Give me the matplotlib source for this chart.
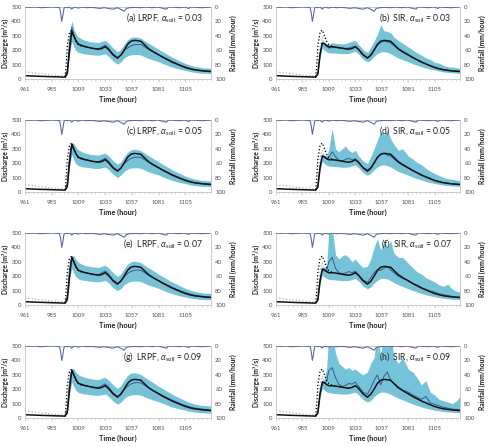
import matplotlib
matplotlib.use('Agg')
import matplotlib.pyplot as plt
from matplotlib.ticker import MultipleLocator

plt.rcParams['font.family'] = ['Lato', 'DejaVu Sans']
plt.rcParams['mathtext.fontset'] = 'custom'
plt.rcParams['mathtext.rm'] = 'Lato'
plt.rcParams['mathtext.it'] = 'Lato:italic'
plt.rcParams['mathtext.bf'] = 'Lato:bold'

# ---------------- data ----------------
time_pre = [961, 973, 985]
time_b = [997, 999, 1001, 1003, 1005, 1007, 1009, 1012, 1015, 1018, 1021, 1024, 1027, 1030,
          1033, 1036, 1040, 1044, 1047, 1050, 1053, 1056, 1059, 1062, 1065, 1068, 1072, 1076,
          1081, 1085, 1089, 1093, 1097, 1101, 1105, 1109, 1113, 1117, 1121, 1125, 1128]
time_all = time_pre + time_b

# thick black line (LRPF panels / SIR panels)
est_lrpf = [23, 19, 16, 13, 40, 200, 330, 295, 262, 240, 232, 225, 220, 214, 210, 207, 212, 225,
            205, 168, 145, 165, 200, 240, 262, 268, 266, 262, 240, 210, 190, 168, 150, 134, 118,
            105, 92, 80, 71, 64, 60, 56, 54, 52]
est_sir = [23, 19, 16, 13, 35, 170, 250, 245, 232, 224, 224, 222, 218, 214, 210, 207, 212, 225,
           205, 168, 145, 165, 200, 240, 262, 268, 266, 262, 240, 210, 190, 168, 150, 134, 118,
           105, 92, 80, 71, 64, 60, 56, 54, 52]
open_loop = [50, 38, 28, 20, 60, 240, 290, 230, 200, 188, 185, 188, 192, 195, 195, 197, 205, 212,
             192, 158, 136, 148, 175, 195, 205, 208, 205, 198, 185, 168, 155, 140, 127, 115, 104,
             94, 84, 75, 67, 61, 57, 54, 52, 50]
obs_time = [997, 998, 999, 1001, 1003, 1005, 1007, 1009, 1012]
obs_pts = [15, 100, 230, 325, 340, 300, 262, 238, 228]

rain_t = [961, 965, 970, 975, 980, 985, 990, 992, 993, 994, 995, 996, 997, 999, 1001, 1003,
          1005, 1009, 1012, 1016, 1020, 1024, 1028, 1032, 1036, 1040, 1044, 1048, 1050, 1052,
          1055, 1060, 1065, 1070, 1075, 1080, 1088, 1090, 1096, 1100, 1104, 1108, 1110, 1115,
          1120, 1128]
rain_v = [0, 0.5, 0, 1, 0.5, 0, 0.5, 1, 8, 20, 12, 2, 0, 1, 0, 3, 0, 1.5, 0, 1, 0.5, 1, 2, 1,
          2, 3, 1, 4, 6, 2, 1, 0.5, 1, 0, 1, 0, 3, 0, 0.5, 1, 0, 2, 0, 0.5, 1, 0]

# LRPF alpha = 0.03
a_up = [18, 90, 320, 405, 345, 310, 292, 278, 268, 262, 258, 255, 253, 262, 268, 250, 215, 190,
        205, 240, 272, 288, 292, 290, 283, 268, 248, 230, 205, 188, 170, 152, 137, 122, 108, 97,
        88, 82, 78, 76, 75]
a_lo = [10, 30, 180, 260, 225, 198, 185, 178, 174, 171, 168, 166, 165, 170, 175, 158, 125, 103,
        118, 145, 160, 168, 170, 170, 166, 156, 142, 132, 120, 106, 94, 83, 74, 66, 60, 52,
        46, 42, 40, 39, 38]
a_mn = [15, 60, 260, 360, 300, 265, 245, 232, 222, 218, 213, 212, 210, 222, 235, 215, 175, 150,
        165, 195, 215, 230, 238, 240, 240, 225, 205, 188, 168, 152, 137, 122, 108, 95, 84, 74,
        67, 62, 58, 55, 53]
# LRPF alpha = 0.05
c_up = [18, 85, 300, 345, 335, 308, 292, 280, 270, 264, 260, 258, 256, 265, 270, 252, 218, 193,
        210, 245, 276, 292, 296, 294, 287, 272, 252, 233, 208, 191, 173, 155, 140, 125, 111, 100,
        91, 84, 80, 78, 77]
c_lo = [10, 30, 178, 258, 222, 196, 183, 176, 172, 169, 166, 164, 163, 168, 173, 156, 123, 101,
        116, 142, 158, 166, 168, 168, 164, 154, 140, 130, 118, 104, 92, 81, 72, 64, 58, 50,
        45, 41, 39, 38, 37]
c_mn = [15, 60, 250, 335, 295, 262, 243, 230, 222, 218, 214, 212, 211, 222, 235, 214, 174, 150,
        165, 196, 217, 232, 240, 242, 240, 226, 206, 189, 169, 153, 138, 123, 109, 96, 85, 75,
        68, 63, 59, 56, 54]
# LRPF alpha = 0.07
e_up = [18, 85, 300, 345, 338, 312, 296, 284, 275, 270, 266, 263, 261, 270, 276, 258, 224, 198,
        216, 252, 283, 300, 304, 301, 294, 278, 258, 239, 214, 196, 178, 160, 145, 130, 116, 104,
        95, 88, 84, 82, 80]
e_lo = [10, 30, 175, 255, 220, 194, 181, 174, 170, 167, 164, 162, 161, 166, 171, 154, 121, 99,
        114, 140, 156, 164, 166, 166, 162, 152, 138, 128, 116, 102, 90, 79, 70, 62, 56, 49,
        44, 40, 38, 37, 36]
e_mn = [15, 60, 250, 335, 295, 262, 243, 231, 223, 219, 215, 213, 212, 223, 236, 215, 175, 151,
        166, 197, 218, 233, 241, 243, 241, 227, 207, 190, 170, 154, 139, 124, 110, 97, 86, 76,
        69, 64, 60, 57, 55]
# LRPF alpha = 0.09
g_up = [18, 85, 300, 345, 340, 316, 300, 290, 282, 277, 272, 268, 266, 276, 282, 264, 230, 205,
        225, 262, 295, 312, 314, 310, 302, 286, 265, 246, 220, 202, 184, 166, 150, 135, 120, 108,
        98, 91, 87, 85, 83]
g_lo = [10, 30, 172, 250, 216, 190, 177, 170, 166, 163, 160, 158, 157, 162, 167, 150, 118, 96,
        110, 136, 152, 160, 162, 162, 158, 148, 135, 125, 113, 100, 88, 77, 68, 60, 54, 47,
        42, 38, 36, 35, 34]
g_mn = [15, 60, 250, 335, 295, 263, 244, 232, 224, 220, 216, 214, 213, 224, 237, 216, 176, 152,
        167, 198, 220, 236, 244, 246, 243, 229, 209, 191, 171, 155, 140, 125, 111, 98, 87, 77,
        70, 65, 61, 58, 56]
# SIR alpha = 0.03
b_up = [16, 50, 200, 265, 255, 245, 242, 252, 248, 246, 244, 245, 255, 262, 268, 240, 205, 185,
        220, 262, 310, 375, 335, 330, 320, 292, 268, 248, 222, 202, 182, 166, 147, 136, 116, 110,
        95, 85, 82, 78, 75]
b_lo = [12, 35, 150, 215, 200, 188, 182, 180, 180, 178, 176, 176, 178, 186, 192, 172, 138, 118,
        132, 158, 176, 188, 190, 186, 176, 162, 146, 134, 120, 106, 96, 85, 76, 69, 62, 55,
        50, 46, 43, 41, 40]
b_mn = [15, 40, 180, 250, 240, 225, 215, 218, 218, 215, 213, 212, 215, 222, 228, 205, 170, 150,
        170, 205, 235, 255, 262, 258, 250, 232, 205, 185, 165, 148, 133, 118, 105, 93, 82, 73,
        66, 61, 57, 55, 53]
# SIR alpha = 0.05
d_up = [16, 50, 200, 268, 255, 250, 300, 440, 300, 280, 300, 320, 290, 275, 290, 250, 215, 200,
        245, 300, 360, 420, 400, 430, 370, 330, 290, 300, 250, 230, 205, 190, 165, 145, 128, 115,
        100, 92, 88, 82, 78]
d_lo = [12, 35, 150, 212, 198, 186, 180, 178, 176, 174, 172, 172, 174, 182, 188, 168, 135, 115,
        130, 155, 174, 186, 188, 184, 174, 160, 143, 131, 117, 104, 93, 83, 74, 66, 59, 53,
        48, 44, 42, 40, 39]
d_mn = [15, 40, 180, 250, 240, 228, 240, 280, 245, 220, 215, 225, 235, 222, 230, 205, 172, 152,
        170, 205, 240, 262, 270, 255, 250, 230, 205, 185, 165, 148, 133, 118, 105, 93, 82, 73,
        66, 61, 57, 55, 53]
# SIR alpha = 0.07
f_up = [16, 50, 205, 265, 260, 280, 520, 540, 350, 320, 340, 350, 330, 300, 320, 290, 260, 270,
        320, 400, 460, 380, 450, 400, 450, 360, 330, 330, 290, 260, 230, 215, 190, 175, 160, 140,
        130, 145, 110, 95, 90]
f_lo = [12, 35, 150, 208, 195, 184, 178, 176, 174, 171, 169, 169, 171, 178, 185, 165, 131, 112,
        126, 151, 170, 184, 185, 181, 170, 156, 140, 128, 113, 101, 90, 80, 71, 64, 57, 51,
        47, 43, 41, 39, 38]
f_mn = [15, 40, 175, 240, 235, 240, 300, 330, 255, 225, 215, 222, 232, 225, 235, 210, 175, 158,
        190, 225, 245, 240, 255, 265, 245, 225, 200, 185, 170, 150, 138, 122, 108, 98, 90, 78,
        72, 66, 60, 56, 54]
# SIR alpha = 0.09
h_up = [16, 50, 200, 260, 270, 350, 600, 600, 450, 380, 360, 340, 350, 330, 340, 320, 300, 320,
        380, 420, 600, 430, 600, 480, 600, 420, 380, 420, 340, 320, 280, 230, 260, 180, 160, 130,
        120, 110, 100, 120, 150]
h_lo = [12, 35, 145, 205, 192, 181, 175, 172, 170, 168, 166, 166, 168, 174, 180, 160, 128, 110,
        122, 148, 168, 180, 180, 175, 165, 152, 138, 126, 110, 98, 87, 77, 68, 61, 54, 49,
        45, 42, 40, 38, 37]
h_mn = [15, 40, 170, 235, 240, 260, 330, 350, 280, 235, 220, 225, 240, 235, 250, 220, 180, 165,
        210, 260, 300, 230, 290, 320, 260, 240, 215, 195, 180, 160, 145, 130, 150, 105, 95, 85,
        75, 68, 62, 58, 56]

panels = [
    ('(a) LRPF, ', '0.03', a_up, a_lo, a_mn, est_lrpf),
    ('(b)  SIR, ', '0.03', b_up, b_lo, b_mn, est_sir),
    ('(c) LRPF, ', '0.05', c_up, c_lo, c_mn, est_lrpf),
    ('(d)  SIR, ', '0.05', d_up, d_lo, d_mn, est_sir),
    ('(e)  LRPF, ', '0.07', e_up, e_lo, e_mn, est_lrpf),
    ('(f)  SIR, ', '0.07', f_up, f_lo, f_mn, est_sir),
    ('(g)  LRPF, ', '0.09', g_up, g_lo, g_mn, est_lrpf),
    ('(h)  SIR, ', '0.09', h_up, h_lo, h_mn, est_sir),
]
xticks = [961, 985, 1009, 1033, 1057, 1081, 1105]

# ---------------- figure ----------------
W, H = 490, 447
fig = plt.figure(figsize=(W / 100, H / 100), dpi=100)

col_x = [(25, 211), (276, 460)]
row_top = [7, 120, 233, 346]
ax_h = 72
band_col = '#74c3d9'
spine_col = '#c9c9c9'
tick_col = '#505050'

for i, (lab, aval, up, lo, mn, est) in enumerate(panels):
    r, c = divmod(i, 2)
    x0, x1 = col_x[c]
    top = row_top[r]
    ax = fig.add_axes([x0 / W, 1 - (top + ax_h) / H, (x1 - x0) / W, ax_h / H])
    ax.fill_between(time_b, lo, up, color=band_col, lw=0, zorder=1)
    ax.plot(time_all, open_loop, ls=':', color='#a9aeb3', lw=0.9, zorder=2)
    ax.plot(time_b, mn, color='#3b5b8e', lw=0.7, zorder=3)
    ax.plot(time_all, est, color='#111111', lw=1.1, zorder=4)
    ax.plot(obs_time, obs_pts, ls=':', color='#000000', lw=0.9, zorder=5)
    ax.set_xlim(961, 1128)
    ax.set_ylim(0, 500)
    ax.set_xticks(xticks)
    ax.xaxis.set_minor_locator(MultipleLocator(4))
    ax.set_yticks([0, 100, 200, 300, 400, 500])
    ax.tick_params(axis='x', which='major', labelsize=4.3, colors=spine_col, labelcolor=tick_col,
                   length=2, width=0.5, pad=3.5)
    ax.tick_params(axis='x', which='minor', colors=spine_col, length=1.5, width=0.4)
    ax.tick_params(axis='y', labelsize=4.3, labelcolor=tick_col, length=0, pad=2.5)
    for s in ax.spines.values():
        s.set_color(spine_col)
        s.set_linewidth(0.6)

    ax2 = ax.twinx()
    ax2.plot(rain_t, rain_v, color='#5a6e9e', lw=0.8, zorder=3)
    ax2.set_ylim(100, 0)
    ax2.set_yticks([0, 20, 40, 60, 80, 100])
    ax2.tick_params(axis='y', labelsize=4.3, labelcolor=tick_col, length=0, pad=3)
    for s in ax2.spines.values():
        s.set_color(spine_col)
        s.set_linewidth(0.6)
    ax2.text(0.955, 0.85, lab + r'$\alpha_{\mathrm{soil}}$' + ' = ' + aval,
             transform=ax2.transAxes, ha='right', va='center', fontsize=6.2,
             color='#222222', zorder=10)

    fig.text((x0 - 20) / W, 1 - (top + ax_h / 2) / H, 'Discharge (m\u00b3/s)', rotation=90,
             ha='center', va='center', fontsize=4.9, fontweight='bold', color='#222222')
    fig.text((x1 + 22) / W, 1 - (top + ax_h / 2) / H, 'Rainfall (mm/hour)', rotation=90,
             ha='center', va='center', fontsize=4.9, fontweight='bold', color='#222222')
    fig.text((x0 + x1) / 2 / W, 1 - (top + ax_h + 20) / H, 'Time (hour)',
             ha='center', va='center', fontsize=5.3, fontweight='bold', color='#222222')

fig.savefig('out.png', dpi=100)
